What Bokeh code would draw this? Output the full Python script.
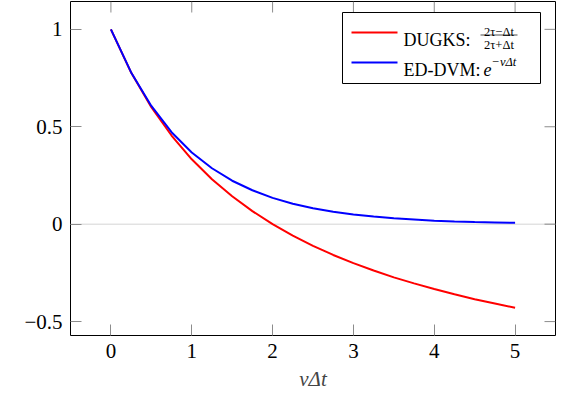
from bokeh.plotting import figure
from bokeh.models import Range1d, FixedTicker, Span
from bokeh.core.properties import value
from bokeh.embed import file_html
from bokeh.resources import INLINE

# ---- data ----
nu_dt = [0.0, 0.25, 0.5, 0.75, 1.0, 1.25, 1.5, 1.75, 2.0, 2.25, 2.5,
         2.75, 3.0, 3.25, 3.5, 3.75, 4.0, 4.25, 4.5, 4.75, 5.0]
dugks = [1.0, 0.778, 0.600, 0.455, 0.333, 0.231, 0.143, 0.067, 0.0, -0.059, -0.111,
         -0.158, -0.200, -0.238, -0.273, -0.304, -0.333, -0.360, -0.385, -0.407, -0.429]
eddvm = [1.0, 0.779, 0.607, 0.472, 0.368, 0.287, 0.223, 0.174, 0.135, 0.105, 0.082,
         0.064, 0.050, 0.039, 0.030, 0.024, 0.018, 0.014, 0.011, 0.009, 0.007]
x_ticks = [0, 1, 2, 3, 4, 5]
y_ticks = [-0.5, 0, 0.5, 1]
y_tick_labels = {-0.5: "\u22120.5", 0: "0", 0.5: "0.5", 1: "1"}
legend_labels = ["DUGKS:", "ED-DVM:"]

FONT = "Liberation Serif"
AXFONT = "'Liberation Serif', 'Times New Roman', serif"
X0, X1 = -0.5, 5.5
Y0, Y1 = -0.5714, 1.1429
FL, FR, FT, FB = 70, 555, 1, 335
TICKLEN = 11

def xd(px):
    return X0 + (px - FL) / (FR - FL) * (X1 - X0)

def yd(py):
    return Y1 - (py - FT) / (FB - FT) * (Y1 - Y0)

p = figure(width=569, height=405, output_backend="svg", toolbar_location=None,
           x_range=Range1d(X0, X1), y_range=Range1d(Y0, Y1),
           min_border_left=FL, min_border_right=569 - FR,
           min_border_top=FT, min_border_bottom=405 - FB)
p.background_fill_color = "white"
p.border_fill_color = "white"
p.outline_line_color = "black"
p.outline_line_width = 1
p.xgrid.grid_line_color = None
p.ygrid.grid_line_color = None

TICK = "#8c8c8c"
for ax in (p.xaxis[0], p.yaxis[0]):
    ax.axis_line_color = None
    ax.major_tick_in = TICKLEN
    ax.major_tick_out = 0
    ax.minor_tick_line_color = None
    ax.major_tick_line_color = TICK
    ax.major_label_text_font = AXFONT
    ax.major_label_text_font_size = "21px"
    ax.major_label_text_color = "black"

p.xaxis.ticker = FixedTicker(ticks=x_ticks)
p.yaxis.ticker = FixedTicker(ticks=y_ticks)
p.yaxis.major_label_overrides = y_tick_labels
p.yaxis.major_label_standoff = 8
p.xaxis.major_label_standoff = 8
p.xaxis.axis_label = "\u03bd\u0394t"
p.xaxis.axis_label_text_font = AXFONT
p.xaxis.axis_label_text_font_size = "21px"
p.xaxis.axis_label_text_font_style = "italic"
p.xaxis.axis_label_standoff = 6

# mirrored inward ticks on the top and right frame edges
top_len = (Y1 - Y0) * TICKLEN / (FB - FT)
right_len = (X1 - X0) * TICKLEN / (FR - FL)
p.segment(x0=x_ticks, x1=x_ticks, y0=[Y1] * len(x_ticks), y1=[Y1 - top_len] * len(x_ticks),
          line_color=TICK, line_width=1)
p.segment(x0=[X1] * len(y_ticks), x1=[X1 - right_len] * len(y_ticks), y0=y_ticks, y1=y_ticks,
          line_color=TICK, line_width=1)

zero = Span(location=0, dimension="width", line_color="#d4d4d4", line_width=1, level="underlay")
p.add_layout(zero)

p.line(nu_dt, dugks, line_color="#ff0000", line_width=2)
p.line(nu_dt, eddvm, line_color="#0000ff", line_width=2)

# ---- legend (drawn by hand so the formulas can be typeset) ----
p.quad(left=[xd(342)], right=[xd(540)], top=[yd(12)], bottom=[yd(83)],
       fill_color="white", line_color="black", line_width=1)
p.line([xd(351), xd(397)], [yd(32), yd(32)], line_color="#ff0000", line_width=2)
p.line([xd(351), xd(397)], [yd(62), yd(62)], line_color="#0000ff", line_width=2)
p.text(x=[xd(403), xd(403)], y=[yd(39), yd(69)], text=legend_labels,
       text_font=value(FONT), text_font_size=value("18px"),
       text_baseline="alphabetic", text_align="left", text_color="black")
# fraction (2τ−Δt)/(2τ+Δt)
p.text(x=[xd(498.5)], y=[yd(31.5)], text=["2\u03c4\u2212\u0394t"],
       text_font=value(FONT), text_font_size=value("12.5px"),
       text_baseline="alphabetic", text_align="center", text_color="black")
p.segment(x0=[xd(480)], x1=[xd(517)], y0=[yd(34.5)], y1=[yd(34.5)],
          line_color="black", line_width=0.7)
p.text(x=[xd(498.5)], y=[yd(44.5)], text=["2\u03c4+\u0394t"],
       text_font=value(FONT), text_font_size=value("12.5px"),
       text_baseline="alphabetic", text_align="center", text_color="black")
# e^{−νΔt}
p.text(x=[xd(483)], y=[yd(69)], text=["e"],
       text_font=value(FONT), text_font_size=value("18px"), text_font_style="italic",
       text_baseline="alphabetic", text_align="left", text_color="black")
p.text(x=[xd(491)], y=[yd(61)], text=["\u2212\u03bd\u0394t"],
       text_font=value(FONT), text_font_size=value("12.5px"), text_font_style="italic",
       text_baseline="alphabetic", text_align="left", text_color="black")

open("out.html", "w").write(file_html(p, INLINE))
